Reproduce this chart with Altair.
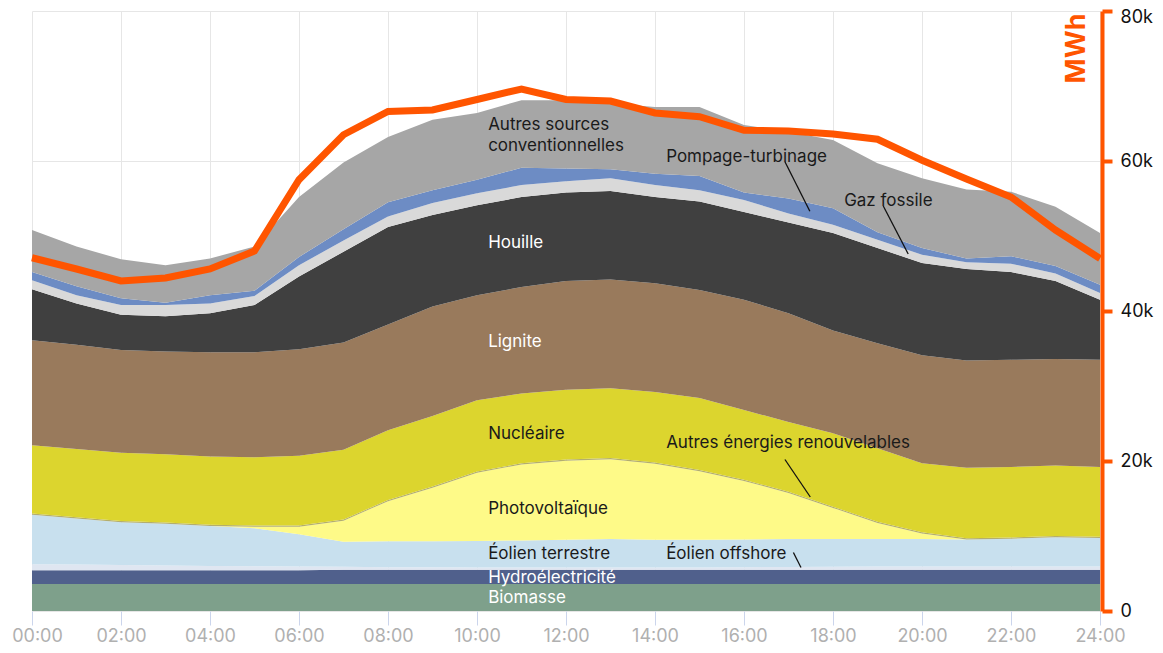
import altair as alt
import pandas as pd

hours = list(range(25))

# generation by source, thousand MWh, bottom to top
biomasse = [3.6, 3.6, 3.6, 3.6, 3.6, 3.6, 3.6, 3.6, 3.6, 3.6, 3.6, 3.6, 3.6, 3.6, 3.6, 3.6, 3.6, 3.6, 3.6, 3.6, 3.6, 3.6, 3.6, 3.6, 3.6]
hydro = [1.85, 1.85, 1.85, 1.85, 1.85, 1.85, 1.85, 1.9, 1.9, 1.9, 1.9, 1.9, 1.9, 1.9, 1.9, 1.9, 1.9, 1.9, 1.9, 1.9, 1.9, 1.9, 1.9, 1.9, 1.9]
offshore = [0.8, 0.75, 0.7, 0.62, 0.55, 0.52, 0.5, 0.4, 0.35, 0.33, 0.3, 0.3, 0.3, 0.3, 0.3, 0.3, 0.35, 0.38, 0.4, 0.42, 0.45, 0.45, 0.45, 0.45, 0.45]
terrestre = [6.6, 6.15, 5.7, 5.58, 5.35, 5.08, 4.3, 3.35, 3.45, 3.47, 3.55, 3.6, 3.7, 3.8, 3.7, 3.7, 3.7, 3.72, 3.7, 3.68, 3.65, 3.6, 3.7, 3.9, 3.8]
photovoltaique = [0, 0, 0, 0, 0, 0.2, 1.0, 2.8, 5.35, 7.15, 9.1, 10.15, 10.55, 10.65, 10.15, 9.15, 7.8, 6.15, 4.15, 2.15, 0.75, 0, 0, 0, 0]
autres_ren = [0.15, 0.15, 0.15, 0.15, 0.15, 0.15, 0.15, 0.15, 0.15, 0.15, 0.15, 0.15, 0.15, 0.15, 0.15, 0.15, 0.15, 0.15, 0.15, 0.15, 0.15, 0.15, 0.15, 0.15, 0.15]
nucleaire = [9.1, 9.1, 9.1, 9.1, 9.1, 9.1, 9.3, 9.3, 9.3, 9.4, 9.5, 9.3, 9.3, 9.3, 9.4, 9.6, 9.3, 9.3, 9.8, 9.8, 9.2, 9.4, 9.4, 9.4, 9.3]
lignite = [14.0, 13.9, 13.7, 13.7, 13.9, 14.0, 14.2, 14.3, 14.1, 14.6, 14.0, 14.2, 14.5, 14.5, 14.5, 14.4, 14.7, 14.5, 13.7, 14.0, 14.4, 14.3, 14.3, 14.2, 14.3]
houille = [6.8, 5.5, 4.7, 4.7, 5.2, 6.3, 9.7, 12.1, 13.0, 12.2, 12.0, 12.0, 11.8, 11.8, 11.5, 11.8, 11.7, 12.1, 13.0, 12.7, 12.3, 12.2, 11.7, 10.4, 8.0]
gaz = [1.2, 1.1, 1.3, 1.5, 1.3, 1.2, 1.5, 1.5, 1.4, 1.6, 1.6, 1.6, 1.5, 1.7, 1.6, 1.5, 1.6, 1.2, 1.1, 1.1, 1.1, 0.9, 1.1, 1.0, 0.9]
pompage = [1.1, 1.2, 0.9, 0.3, 1.1, 0.7, 1.1, 1.5, 1.9, 1.7, 1.8, 2.3, 1.7, 1.2, 1.5, 1.9, 1.0, 2.0, 2.2, 1.0, 0.9, 0.5, 1.0, 1.0, 1.1]
autres_conv = [5.6, 5.3, 5.2, 5.0, 4.9, 5.9, 8.0, 8.9, 8.7, 9.4, 8.9, 9.0, 9.1, 8.8, 8.9, 9.2, 9.0, 8.9, 9.1, 9.2, 9.3, 9.2, 8.6, 7.9, 6.9]

consumption = [47.1, 45.6, 44.0, 44.4, 45.6, 48.0, 57.5, 63.5, 66.6, 66.8, 68.2, 69.6, 68.2, 68.0, 66.4, 65.9, 64.1, 64.0, 63.6, 62.9, 60.1, 57.6, 55.2, 50.8, 47.0]

source_names = ["Biomasse", "Hydroélectricité", "Éolien offshore", "Éolien terrestre",
                "Photovoltaïque", "Autres énergies renouvelables", "Nucléaire", "Lignite",
                "Houille", "Gaz fossile", "Pompage-turbinage", "Autres sources conventionnelles"]
source_values = [biomasse, hydro, offshore, terrestre, photovoltaique, autres_ren,
                 nucleaire, lignite, houille, gaz, pompage, autres_conv]
source_colors = ["#7ea08b", "#50608c", "#dfe6f1", "#c8e0ee", "#fefa88", "#b3ae6e",
                 "#dcd52e", "#997a5c", "#404040", "#d9d9d9", "#6d8cc4", "#a6a6a6"]

label_text = ["Autres sources", "conventionnelles", "Houille", "Lignite", "Nucléaire",
              "Photovoltaïque", "Éolien terrestre", "Hydroélectricité", "Biomasse",
              "Pompage-turbinage", "Gaz fossile", "Autres énergies renouvelables", "Éolien offshore"]
label_hour = [10.25, 10.25, 10.25, 10.25, 10.25, 10.25, 10.25, 10.25, 10.25, 14.25, 18.25, 14.25, 14.25]
label_value = [64.8, 62.0, 49.1, 35.9, 23.6, 13.6, 7.6, 4.4, 1.7, 60.5, 54.7, 22.4, 7.6]
label_color = ["#1a1a1a", "#1a1a1a", "#ffffff", "#ffffff", "#1a1a1a", "#1a1a1a", "#1a1a1a",
               "#ffffff", "#ffffff", "#1a1a1a", "#1a1a1a", "#1a1a1a", "#1a1a1a"]

lead_x1 = [16.92, 19.13, 16.92, 17.11]
lead_y1 = [59.9, 54.0, 20.2, 7.8]
lead_x2 = [17.48, 19.69, 17.49, 17.28]
lead_y2 = [53.3, 47.6, 15.2, 5.8]

y_ticks = [0, 20000, 40000, 60000, 80000]

rows = []
for i, (name, vals) in enumerate(zip(source_names, source_values)):
    for h, v in zip(hours, vals):
        rows.append({"hour": h, "source": name, "value": v * 1000, "idx": i})
df = pd.DataFrame(rows)
cons_df = pd.DataFrame({"hour": hours, "consumption": [c * 1000 for c in consumption]})
lab_df = pd.DataFrame({"x": label_hour, "y": [v * 1000 for v in label_value],
                       "label": label_text, "color": label_color})
lead_df = pd.DataFrame({"x1": lead_x1, "x2": lead_x2,
                        "y1": [v * 1000 for v in lead_y1], "y2": [v * 1000 for v in lead_y2]})

FONT = "Inter"
ORANGE = "#ff5500"
xscale = alt.Scale(domain=[0, 24], nice=False, zero=False)
yscale = alt.Scale(domain=[0, 80000], nice=False)

x_axis = alt.Axis(
    values=list(range(0, 25, 2)),
    labelExpr="(datum.value < 10 ? '0' : '') + datum.value + ':00'",
    grid=True, gridColor="#e6e6e6", domain=False,
    tickColor="#cbd5ec", tickSize=14, tickWidth=1,
    labelColor="#b0b0b0", labelFontSize=18, labelFont=FONT, labelPadding=2,
    labelFlush=False, labelOverlap=False,
    labelOffset={"condition": {"test": "datum.value == 0", "value": 5}, "value": 0},
    title=None)
y_axis = alt.Axis(
    orient="right", values=y_ticks,
    labelExpr="datum.value == 0 ? '0' : (datum.value / 1000) + 'k'",
    grid=True, gridColor="#e6e6e6", offset=2,
    domainColor=ORANGE, domainWidth=4,
    tickColor=ORANGE, tickWidth=4, tickSize=10,
    labelColor="#111111", labelFontSize=18, labelFont=FONT, labelPadding=8,
    labelFlush=False, labelOverlap=False,
    labelOffset={"condition": {"test": "datum.value == 80000", "value": 6}, "value": 0},
    title="MWh", titleColor=ORANGE, titleFontSize=27, titleFont=FONT,
    titleFontWeight="bold", titleAngle=270, titleAlign="right",
    titleBaseline="alphabetic", titleX=-18, titleY=2)

area = alt.Chart(df).mark_area(interpolate="linear").encode(
    x=alt.X("hour:Q", scale=xscale, axis=x_axis),
    y=alt.Y("value:Q", stack="zero", scale=yscale, axis=y_axis),
    color=alt.Color("source:N", scale=alt.Scale(domain=source_names, range=source_colors), legend=None),
    order=alt.Order("idx:Q", sort="ascending"),
)

line = alt.Chart(cons_df).mark_line(color=ORANGE, strokeWidth=7, strokeJoin="miter").encode(
    x=alt.X("hour:Q", scale=xscale, axis=x_axis),
    y=alt.Y("consumption:Q", scale=yscale, axis=y_axis),
)

rules = alt.Chart(lead_df).mark_rule(color="#111111", strokeWidth=1.3).encode(
    x=alt.X("x1:Q", scale=xscale, axis=x_axis), x2="x2:Q",
    y=alt.Y("y1:Q", scale=yscale, axis=y_axis), y2="y2:Q",
)

text = alt.Chart(lab_df).mark_text(align="left", baseline="middle", font=FONT, fontSize=17).encode(
    x=alt.X("x:Q", scale=xscale, axis=x_axis),
    y=alt.Y("y:Q", scale=yscale, axis=y_axis),
    text="label:N",
    color=alt.Color("color:N", scale=None),
)

chart = alt.layer(area, line, rules, text).properties(
    width=1068, height=600,
    padding={"left": 24, "top": 3, "right": 55, "bottom": 34},
    autosize=alt.AutoSizeParams(type="none"),
).configure_view(stroke=None)

chart.save("out.html", embed_options={"renderer": "svg", "actions": False})
